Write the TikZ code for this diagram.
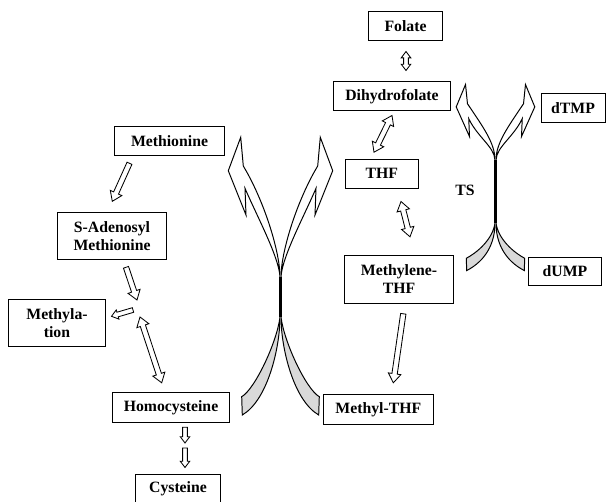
\documentclass[tikz,border=0pt]{standalone}
\usepackage{fontspec}
\setmainfont{Liberation Serif}
\usetikzlibrary{calc}

\tikzset{
  box/.style={draw, line width=0.7pt, inner sep=0pt, align=center,
    font=\fontsize{11.2}{13}\selectfont\bfseries},
  hollow shaft/.store in=\hshaft, hollow shaft=1.9pt,
  hollow head/.store in=\hhead, hollow head=4.5pt,
  hollow len/.store in=\hlen, hollow len=6.5pt,
  smallhead/.style={hollow shaft=1.7pt, hollow head=3.4pt, hollow len=4.5pt},
  % open block arrow, one head
  hollow/.style={draw, fill=white, line width=0.6pt, to path={
    let \p1=(\tikztostart), \p2=(\tikztotarget) in
    ($(\p1)!\hshaft!90:(\p2)$) --
    ($(\p2)!\hlen!(\p1)!\hshaft!-90:(\p1)$) --
    ($(\p2)!\hlen!(\p1)!\hhead!-90:(\p1)$) --
    (\p2) --
    ($(\p2)!\hlen!(\p1)!\hhead!90:(\p1)$) --
    ($(\p2)!\hlen!(\p1)!\hshaft!90:(\p1)$) --
    ($(\p1)!\hshaft!-90:(\p2)$) -- cycle}},
  % open block arrow, two heads
  hollow2/.style={draw, fill=white, line width=0.6pt, to path={
    let \p1=(\tikztostart), \p2=(\tikztotarget) in
    (\p1) --
    ($(\p1)!\hlen!(\p2)!\hhead!90:(\p2)$) --
    ($(\p1)!\hlen!(\p2)!\hshaft!90:(\p2)$) --
    ($(\p2)!\hlen!(\p1)!\hshaft!-90:(\p1)$) --
    ($(\p2)!\hlen!(\p1)!\hhead!-90:(\p1)$) --
    (\p2) --
    ($(\p2)!\hlen!(\p1)!\hhead!90:(\p1)$) --
    ($(\p2)!\hlen!(\p1)!\hshaft!90:(\p1)$) --
    ($(\p1)!\hlen!(\p2)!\hshaft!-90:(\p2)$) --
    ($(\p1)!\hlen!(\p2)!\hhead!-90:(\p2)$) -- cycle}},
  % curved arrow pair half, neck half-length #1
  pics/twist/.style={code={
    \draw[fill=white] (0,-#1) .. controls (0,{-#1-25}) and (-15.7,-96) .. (-36.7,-131)
      -- (-39.3,-159.7) -- (-51.7,-126.3) -- (-34,-82) -- (-35,-108.7)
      .. controls (-23,-80.7) and (-1,{-#1-20}) .. (0,-#1) -- cycle;
    \draw[fill=gray!30] (0,#1) .. controls (0,{#1+30}) and (-12,103) .. (-37.7,118)
      -- (-38.3,99.7) .. controls (-25,92) and (-3,{#1+25}) .. (0,#1) -- cycle;
    \draw[line width=1.2pt] (0,-#1) -- (0,#1);
  }},
}

\begin{document}
\begin{tikzpicture}[x=0.025cm, y=-0.025cm]
  \useasboundingbox (0,0) rectangle (608,502);

  % curved arrows
  \pic[line width=0.7pt] at (280,297) {twist=20};
  \pic[line width=0.7pt, xscale=-1] at (281,297) {twist=20};
  \pic[line width=0.7pt, xscale=0.75, yscale=0.67] at (495,191.5) {twist=47};
  \pic[line width=0.7pt, xscale=-0.75, yscale=0.67] at (496,191.5) {twist=47};

  % folate side
  \node[box, minimum width=1.85cm, minimum height=0.725cm] (fol) at (405.5,26) {Folate};
  \node[box, minimum width=2.9cm, minimum height=0.725cm] (dhf) at (392,96.3) {Dihydrofolate};
  \node[box, minimum width=1.825cm, minimum height=0.725cm] (thf) at (381.7,173.8) {THF};
  \node[box, minimum width=2.725cm, minimum height=1.2cm] (mthf) at (399,279) {Methylene-\\THF};
  \node[box, minimum width=2.75cm, minimum height=0.75cm] (methyl) at (378.3,409.3) {Methyl-THF};
  \node[box, minimum width=1.6cm, minimum height=0.725cm] (dtmp) at (573,108) {dTMP};
  \node[box, minimum width=1.825cm, minimum height=0.7cm] (dump) at (565,271) {dUMP};
  \node[font=\fontsize{11.2}{13}\selectfont\bfseries] (ts) at (465,190) {TS};

  % methionine side
  \node[box, minimum width=2.725cm, minimum height=0.725cm] (met) at (169.5,141.3) {Methionine};
  \node[box, minimum width=2.725cm, minimum height=1.175cm] (sam) at (112,236.3) {S-Adenosyl\\Methionine};
  \node[box, minimum width=2.4cm, minimum height=1.175cm] (mety) at (57,323.3) {Methyla-\\tion};
  \node[box, minimum width=2.925cm, minimum height=0.75cm] (hcy) at (171,407.7) {Homocysteine};
  \node[box, minimum width=2.1cm, minimum height=0.725cm] (cys) at (178,488.5) {Cysteine};
  \coordinate (junc) at (137,308);
  \coordinate (mid) at (185,445.5);

  \draw[hollow] ($(met.south west)+(15,7)$) to ($(sam.north)+(0.3,-11)$);
  \draw[hollow] ($(sam.south)+(14,7)$) to ($(junc)+(0,-8)$);
  \draw[hollow, smallhead] ($(junc)+(-4,2)$) to ($(mety.east)+(6,-7)$);
  \draw[hollow2] ($(junc)+(3,9)$) to ($(hcy.north)+(-9.3,-9.4)$);
  \draw[hollow, smallhead] ($(hcy.south)+(14,4)$) to ($(mid)+(0,-2.5)$);
  \draw[hollow, smallhead] ($(mid)+(0,2.5)$) to ($(cys.north)+(7,-6)$);

  \draw[hollow2, smallhead] ($(fol.south)+(0.5,10.5)$) to ($(dhf.north)+(14,-10.8)$);
  \draw[hollow2] ($(dhf.south)+(0,4.2)$) to ($(thf.north)+(-7.7,-6.6)$);
  \draw[hollow2] ($(thf.south)+(19.3,12.7)$) to ($(mthf.north)+(11,-17.7)$);
  \draw[hollow] ($(mthf.south)+(4.3,10.3)$) to ($(methyl.north)+(15,-11)$);
\end{tikzpicture}
\end{document}
